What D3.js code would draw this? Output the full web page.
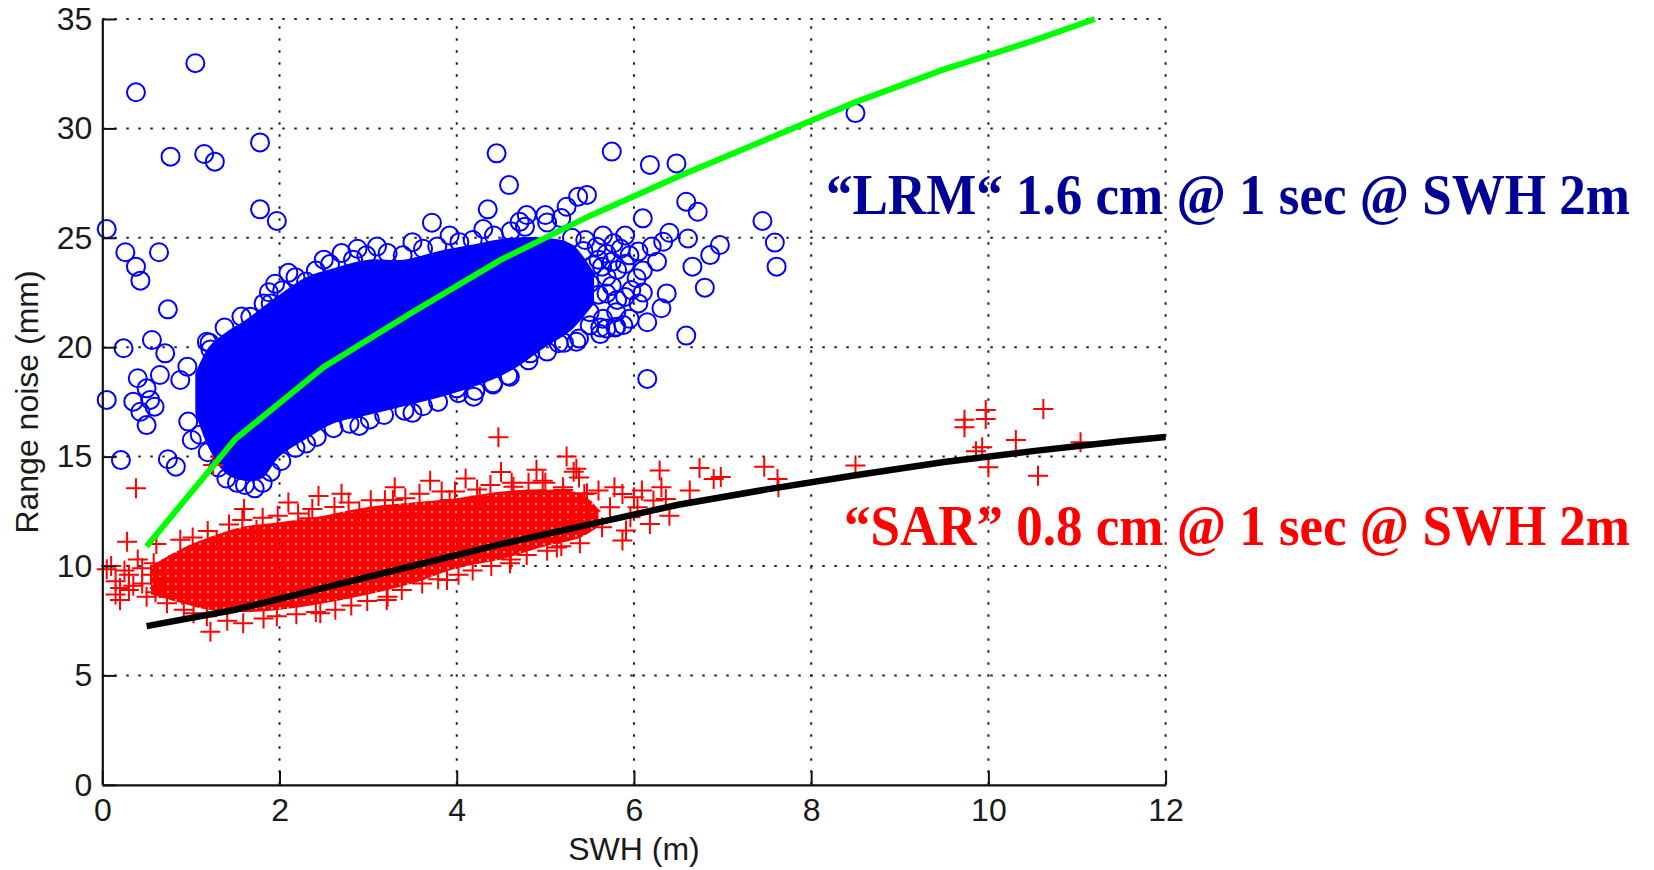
<!DOCTYPE html>
<html>
<head>
<meta charset="utf-8">
<script src="https://cdn.jsdelivr.net/npm/d3@7"></script>
<style>
  body { margin: 0; background: #fff; }
  svg { display: block; }
  .tick text { font-family: "Liberation Sans", Arial, sans-serif; font-size: 32px; fill: #1a1a1a; }
</style>
</head>
<body>
<div id="chart"></div>
<script>
// x ticks / y ticks
const xTicks = [0, 2, 4, 6, 8, 10, 12];
const yTicks = [0, 5, 10, 15, 20, 25, 30, 35];

// binned fit lines (SWH, noise mm)
const lrmFitX = [0.5, 1.5, 2.5, 3.5, 4.5, 5.5, 6.5, 7.5, 8.5, 9.5, 10.5, 11.2];
const lrmFitY = [10.9, 15.8, 19.1, 21.6, 24.0, 26.0, 27.8, 29.5, 31.2, 32.7, 34.0, 35.0];
const sarFitX = [0.5, 1.5, 2.5, 3.5, 4.5, 5.5, 6.5, 7.5, 8.5, 9.5, 10.5, 11.5, 12.0];
const sarFitY = [7.25, 8.0, 9.0, 10.0, 11.0, 11.9, 12.8, 13.5, 14.15, 14.75, 15.25, 15.7, 15.9];

// dense LRM core (where the circles merge into solid blue)
const lrmCoreX  = [1.05, 1.2, 1.4, 1.6, 1.8, 2.0, 2.3, 2.6, 3.0, 3.4, 3.8, 4.2, 4.6, 5.0, 5.3, 5.55];
const lrmCoreHi = [18.8, 20.0, 20.7, 21.2, 21.8, 22.4, 23.2, 23.6, 24.0, 24.0, 24.4, 24.7, 25.0, 25.0, 24.7, 23.4];
const lrmCoreLo = [17.0, 15.4, 14.2, 13.9, 14.0, 15.0, 15.8, 16.5, 16.9, 17.3, 17.7, 18.2, 18.9, 20.0, 20.8, 22.0];

// dense SAR core
const sarCoreX  = [0.55, 0.9, 1.2, 1.6, 2.0, 2.5, 3.0, 3.5, 4.0, 4.5, 5.0, 5.4, 5.6];
const sarCoreHi = [10.0, 10.8, 11.3, 11.8, 12.0, 12.3, 12.7, 12.9, 13.1, 13.4, 13.5, 13.3, 12.6];
const sarCoreLo = [8.7, 8.3, 8.0, 7.9, 8.0, 8.3, 8.7, 9.2, 9.9, 10.3, 10.9, 11.3, 11.8];

// individual LRM points (circles)
const lrmPoints = [
  // left outliers
  [0.05,25.4],[0.38,31.65],[1.05,32.98],[0.77,28.71],[1.15,28.83],[1.27,28.48],[1.78,29.36],[1.78,26.3],
  [1.97,25.77],[0.26,24.34],[0.38,23.68],[0.43,23.04],[0.64,24.34],[0.74,21.73],[0.24,19.95],[0.56,20.33],
  [0.71,19.72],[0.40,18.58],[0.65,18.73],[0.35,17.51],[0.59,17.28],[0.5,16.44],[0.43,17.05],[0.05,17.59],
  [0.88,18.5],[0.96,19.11],[0.97,16.6],[1.01,15.76],[0.21,14.84],[0.74,14.88],[0.83,14.54],[1.67,21.39],
  [1.55,19.87],[1.18,20.25],[1.88,22.51],[1.9,22.0],[0.5,18.12],[0.54,17.59],[1.22,19.9],
  // upper edge of the core
  [1.21,20.2],[1.38,20.9],[1.57,21.4],[1.82,22.0],[2.03,22.6],[2.18,23.2],[2.41,23.5],[2.57,23.8],
  [2.83,24.0],[2.98,24.2],[3.22,24.3],[3.39,24.2],[3.62,24.5],[3.78,24.6],[4.03,24.8],[4.18,24.9],
  [4.42,25.1],[4.61,25.3],[4.77,25.5],[5.02,25.7],[5.18,25.9],[2.3,23.0],[2.7,24.3],[3.1,24.6],
  [3.5,24.8],[3.72,25.69],[3.92,25.1],[4.3,25.4],[2.1,23.4],[2.5,24.0],[1.95,22.9],[2.88,24.5],
  // lower edge of the core
  [1.1,16.0],[1.19,15.2],[1.31,14.5],[1.4,14.0],[1.52,13.8],[1.61,13.7],[1.72,13.55],[1.81,13.8],
  [1.9,14.3],[2.02,14.8],[2.18,15.4],[2.42,15.9],[2.61,16.3],[2.79,16.5],[3.02,16.7],[3.18,16.9],
  [3.41,17.1],[3.62,17.3],[3.79,17.5],[4.02,17.9],[4.21,18.0],[4.41,18.3],[4.58,18.7],[4.81,19.4],
  [5.02,19.8],[5.21,20.2],[5.38,20.4],[5.62,20.6],[5.79,20.9],[2.3,15.6],[2.9,16.4],[3.5,17.0],
  [4.19,17.74],[4.0,18.12],[4.41,18.35],[4.60,18.65],[4.83,19.72],[5.15,20.18],[5.35,20.25],
  // looser right part of the cloud
  [5.58,24.59],[5.77,24.75],[5.85,24.5],[5.69,24.27],[5.64,23.68],[5.81,23.53],[5.69,23.22],[5.50,22.92],
  [5.69,22.46],[5.81,22.16],[5.97,22.61],[5.80,20.94],[5.43,22.1],[5.35,22.65],[5.54,23.75],[5.43,24.4],
  [5.6,24.0],[5.75,23.9],[5.9,23.8],[5.95,24.2],[5.6,22.4],[5.75,22.8],[5.9,22.3],[5.8,21.6],
  [5.65,21.3],[5.5,21.0],[5.95,21.3],[6.1,22.5],[6.1,23.5],[6.2,24.6],[5.45,24.9],[5.65,25.1],
  [5.9,25.1],[5.3,25.0],[5.88,21.01],[5.69,20.86],[5.5,21.6],[5.62,20.9],
  // right outliers
  [4.45,28.86],[5.75,28.94],[6.18,28.33],[6.48,28.4],[4.59,27.41],[4.35,26.3],[4.79,26.04],[4.71,25.73],
  [5.24,26.42],[5.37,26.88],[5.47,26.96],[5.0,26.04],[6.1,25.89],[6.59,26.65],[6.72,26.19],[6.40,25.23],
  [6.33,24.82],[6.61,24.97],[6.97,24.67],[6.86,24.21],[6.66,23.68],[6.80,22.72],[7.45,25.77],[7.59,24.78],
  [7.61,23.68],[6.26,23.91],[6.37,22.46],[6.31,21.78],[6.59,20.53],[6.15,21.14],[6.15,18.55],[6.05,24.37],
  [6.03,23.15],[6.05,22.0],[8.5,30.7]
];

// individual SAR points (plus signs)
const sarPoints = [
  // left / outliers
  [0.38,13.55],[1.25,14.62],[2.44,13.2],[3.28,13.02],[4.47,15.88],[0.28,11.11],[0.61,11.0],[0.05,9.85],
  [0.2,8.45],[1.22,7.0],[5.24,15.0],[5.32,14.31],[5.0,13.81],[0.73,8.3],[0.58,10.12],[0.76,10.05],
  [0.15,9.3],[0.3,9.6],[0.45,9.2],[0.55,9.6],[0.65,9.0],[0.85,9.4],[0.3,8.9],[0.1,10.0],[0.5,8.6],
  [0.9,8.7],[0.4,10.3],[0.2,9.0],[0.25,9.8],[0.35,9.1],[0.6,8.8],[0.45,9.9],[0.7,9.7],[0.15,8.7],
  // upper edge
  [0.88,11.2],[1.02,11.3],[1.19,11.6],[1.43,11.9],[1.58,12.1],[1.81,12.2],[1.98,12.3],[2.21,12.4],
  [2.37,12.6],[2.62,12.7],[2.78,12.9],[3.03,13.0],[3.19,13.0],[3.42,13.1],[3.58,13.3],[3.83,13.4],
  [3.98,13.4],[4.23,13.5],[4.38,13.7],[4.62,13.8],[4.81,13.8],[4.97,13.9],[1.29,11.19],[1.74,11.64],
  [2.33,12.18],[2.9,12.5],[3.47,12.41],[3.92,13.02],[4.26,13.17],[4.64,13.62],[5.2,13.47],[5.47,13.32],
  [3.3,13.6],[3.7,13.9],[4.1,14.0],[4.5,14.3],[2.7,13.3],[2.1,12.9],[1.6,12.6],[4.9,14.4],
  // lower edge
  [0.92,8.0],[1.03,7.84],[1.18,7.7],[1.41,7.5],[1.59,7.38],[1.82,7.6],[1.97,7.7],[2.19,7.8],
  [2.41,7.9],[2.63,8.0],[2.81,8.2],[2.99,8.4],[3.22,8.6],[3.38,8.9],[3.61,9.2],[3.79,9.4],
  [4.02,9.6],[4.18,9.8],[4.39,10.0],[4.61,10.3],[4.79,10.5],[5.02,10.7],[5.18,10.9],[5.39,11.04],
  [2.46,7.84],[3.21,8.45],[3.89,9.36],[4.6,10.12],
  // right cluster
  [5.06,12.68],[5.35,14.44],[5.38,14.05],[5.2,13.6],[5.44,13.29],[5.6,13.45],[5.78,13.6],[5.87,13.29],
  [6.0,13.14],[6.09,13.45],[6.29,14.36],[6.31,13.6],[6.36,13.06],[6.63,13.45],[6.74,14.48],[6.9,13.98],
  [6.98,14.07],[6.4,12.3],[6.18,11.92],[5.91,11.62],[5.87,11.16],[5.64,11.77],[5.33,12.07],[5.15,11.46],
  [5.13,10.85],[5.51,12.53],[5.73,12.68],[6.04,12.68],[6.22,12.99],[5.96,12.23],[7.47,14.54],[7.62,13.98],
  [7.63,13.6],
  // far right
  [8.5,14.59],[9.73,16.68],[9.73,16.34],[9.97,17.13],[9.97,16.72],[10.62,17.18],[10.31,15.76],[11.04,15.66],
  [9.93,15.43],[9.86,15.24],[10.0,14.51],[10.56,14.13]
];

const lrmLabel = '\u201CLRM\u201C 1.6 cm @ 1 sec @ SWH 2m';
const sarLabel = '\u201CSAR\u201D 0.8 cm @ 1 sec @ SWH 2m';

let width = 1654;
let height = 870;

let svg = d3.select('#chart')
  .append('svg')
  .attr('width', width)
  .attr('height', height);

let x = d3.scaleLinear().domain([0, 12]).range([102.3, 1165.6]);
let y = d3.scaleLinear().domain([0, 35]).range([784.8, 19]);

// pattern that imitates the overlapping plus markers
let pat = svg.append('defs').append('pattern')
  .attr('id', 'plusHatch')
  .attr('patternUnits', 'userSpaceOnUse')
  .attr('width', 8).attr('height', 8);
pat.append('path')
  .attr('d', 'M0,4H8M4,0V8')
  .attr('stroke', '#ff0000')
  .attr('stroke-width', 6.3);

// grid
let grid = svg.append('g');
grid.selectAll('line.gx')
  .data(xTicks.slice(1))
  .enter().append('line')
  .attr('x1', d => x(d)).attr('x2', d => x(d))
  .attr('y1', y(0)).attr('y2', y(35));
grid.selectAll('line.gy')
  .data(yTicks.slice(1))
  .enter().append('line')
  .attr('x1', x(0)).attr('x2', x(12))
  .attr('y1', d => y(d)).attr('y2', d => y(d));
grid.selectAll('line')
  .attr('stroke', '#222')
  .attr('stroke-width', 2)
  .attr('stroke-dasharray', '2.5,9.5');

let coreArea = (xs, lo, hi) => d3.area()
  .x((d, i) => x(xs[i]))
  .y0((d, i) => y(lo[i]))
  .y1((d, i) => y(hi[i]))
  .curve(d3.curveCatmullRom)(xs);

// LRM: core + circles
svg.append('path')
  .attr('d', coreArea(lrmCoreX, lrmCoreLo, lrmCoreHi))
  .attr('fill', '#0000ff');

svg.append('g').selectAll('circle')
  .data(lrmPoints)
  .enter().append('circle')
  .attr('cx', d => x(d[0]))
  .attr('cy', d => y(d[1]))
  .attr('r', 9)
  .attr('fill', 'none')
  .attr('stroke', '#0000ff')
  .attr('stroke-width', 2);

// SAR: core + plus markers
svg.append('path')
  .attr('d', coreArea(sarCoreX, sarCoreLo, sarCoreHi))
  .attr('fill', 'url(#plusHatch)');

let arm = 10;
svg.append('g').selectAll('path')
  .data(sarPoints)
  .enter().append('path')
  .attr('d', d => 'M' + (x(d[0]) - arm) + ',' + y(d[1]) + 'h' + 2 * arm +
                  'M' + x(d[0]) + ',' + (y(d[1]) - arm) + 'v' + 2 * arm)
  .attr('stroke', '#ff0000')
  .attr('stroke-width', 2)
  .attr('fill', 'none');

// fit lines
let line = d3.line().x(d => x(d[0])).y(d => y(d[1]));
svg.append('path')
  .attr('d', line(d3.zip(sarFitX, sarFitY)))
  .attr('fill', 'none').attr('stroke', '#000').attr('stroke-width', 6.5);
svg.append('path')
  .attr('d', line(d3.zip(lrmFitX, lrmFitY)))
  .attr('fill', 'none').attr('stroke', '#00ff00').attr('stroke-width', 6);

// axes (left and bottom, ticks inside)
let xAxis = d3.axisBottom(x).tickValues(xTicks).tickSizeInner(-14).tickSizeOuter(0).tickPadding(13);
let yAxis = d3.axisLeft(y).tickValues(yTicks).tickSizeInner(-14).tickSizeOuter(0).tickPadding(10);

let gx = svg.append('g').attr('transform', 'translate(0,' + y(0) + ')').call(xAxis);
let gy = svg.append('g').attr('transform', 'translate(' + x(0) + ',0)').call(yAxis);
[gx, gy].forEach(g => {
  g.select('.domain').attr('stroke', '#111').attr('stroke-width', 2.2);
  g.selectAll('.tick line').attr('stroke', '#111').attr('stroke-width', 2);
});

// axis titles
svg.append('text')
  .attr('x', x(6)).attr('y', 860)
  .attr('text-anchor', 'middle')
  .style('font-family', '"Liberation Sans", Arial, sans-serif')
  .style('font-size', '32px').style('fill', '#1a1a1a')
  .text('SWH (m)');
svg.append('text')
  .attr('transform', 'translate(38,' + 402 + ') rotate(-90)')
  .attr('text-anchor', 'middle')
  .style('font-family', '"Liberation Sans", Arial, sans-serif')
  .style('font-size', '32px').style('fill', '#1a1a1a')
  .text('Range noise (mm)');

// annotations
svg.append('text')
  .attr('x', 826).attr('y', 214)
  .attr('textLength', 804).attr('lengthAdjust', 'spacingAndGlyphs')
  .style('font-family', '"Liberation Serif", "Times New Roman", serif')
  .style('font-weight', 'bold').style('font-size', '56px').style('fill', '#000096')
  .text(lrmLabel);
svg.append('text')
  .attr('x', 844).attr('y', 545)
  .attr('textLength', 786).attr('lengthAdjust', 'spacingAndGlyphs')
  .style('font-family', '"Liberation Serif", "Times New Roman", serif')
  .style('font-weight', 'bold').style('font-size', '56px').style('fill', '#ff0000')
  .text(sarLabel);
</script>
</body>
</html>
